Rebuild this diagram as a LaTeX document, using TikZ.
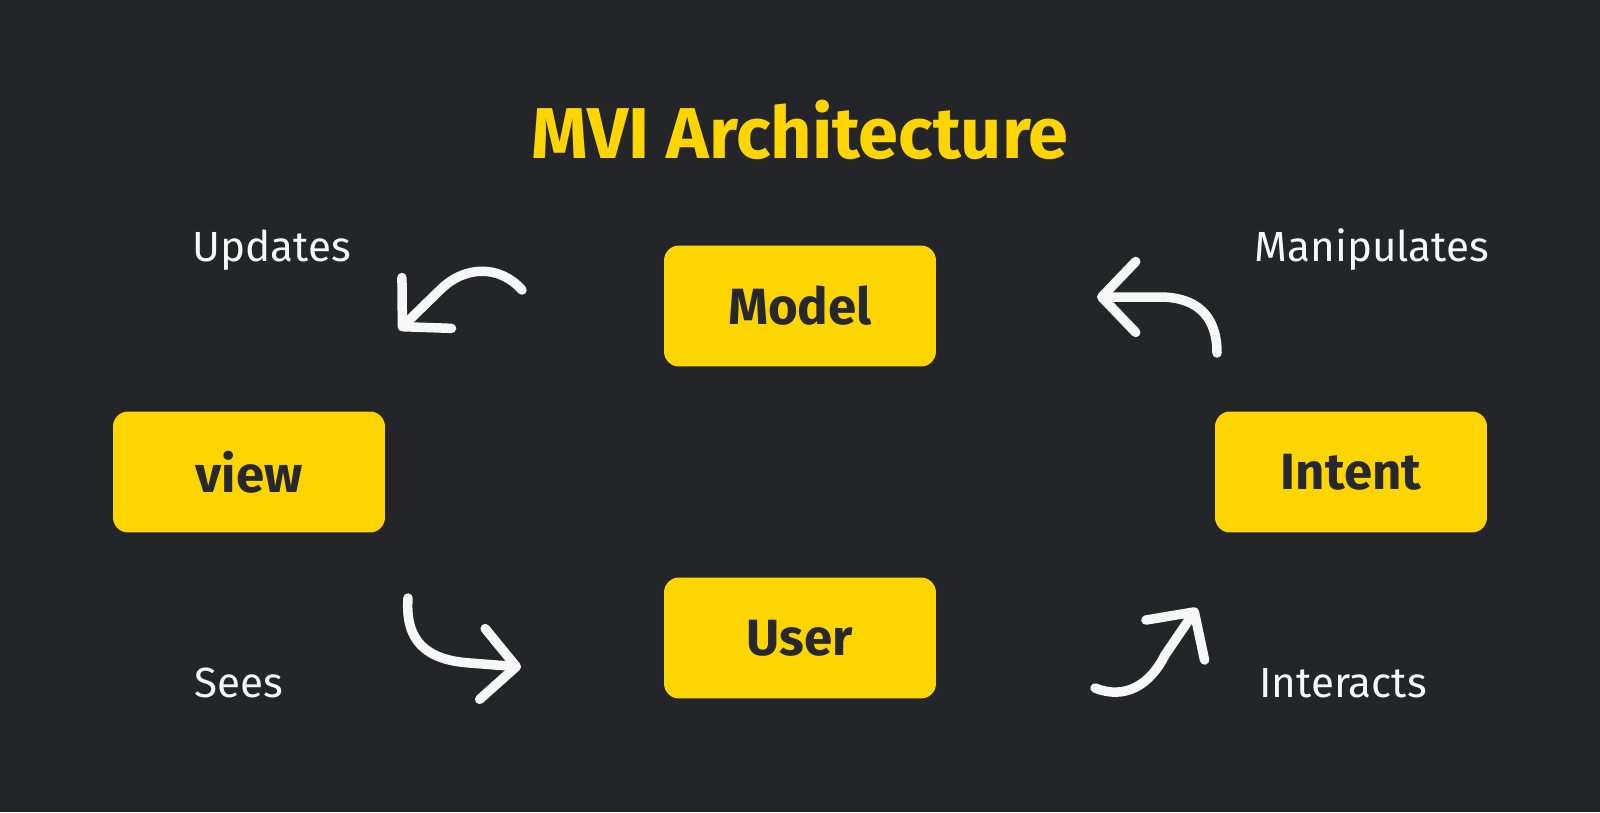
\documentclass[tikz,border=0pt]{standalone}
\usepackage{fontspec}
\setmainfont{Fira Sans}
\usetikzlibrary{arrows.meta}

\definecolor{bgdark}{HTML}{232529}
\definecolor{mviyellow}{HTML}{FFD500}
\definecolor{boxtext}{HTML}{26282C}
\definecolor{arrowwhite}{HTML}{F7F7F7}

\begin{document}
\begin{tikzpicture}[x=0.02cm,y=-0.02cm]
    \fill[bgdark] (0,0) rectangle (1600,812);
    \useasboundingbox (0,0) rectangle (1600,812);

    \tikzstyle{block} = [fill=mviyellow, text=boxtext, rounded corners=0.3cm,
        minimum width=5.44cm, minimum height=2.42cm, inner sep=0pt,
        font=\fontsize{29}{32}\selectfont\bfseries]
    \tikzstyle{label} = [text=arrowwhite, font=\fontsize{24}{27}\selectfont]
    \tikzstyle{flow} = [draw=arrowwhite, line width=0.19cm, line cap=round, line join=round,
        -{Straight Barb[round, length=0.68cm, width=1.42cm]}]

    \node[text=mviyellow, font=\fontsize{41}{45}\selectfont\bfseries] (title) at (800,130) {MVI Architecture};

    \node[block] (model) at (800,306) {Model};
    \node[block] (user) at (800,638) {User};
    \node[block] (view) at (249,472) {view};
    \node[block] (intent) at (1351,472) {Intent};

    \node[label] (updates) at (272,250) {Updates};
    \node[label] (manip) at (1372,250) {Manipulates};
    \node[label] (sees) at (239,683) {Sees};
    \node[label] (interacts) at (1343,683) {Interacts};

    % free ends of the curved arrows
    \coordinate (u1) at (522,290);
    \coordinate (u2) at (399,330);
    \coordinate (m1) at (1217,353);
    \coordinate (m2) at (1097,297);
    \coordinate (s1) at (408,598);
    \coordinate (s2) at (521,667);
    \coordinate (i1) at (1095,688);
    \coordinate (i2) at (1197,608);

    \draw[flow] (u1) .. controls (500,265) and (465,265) .. (440,290) -- (u2);
    \draw[flow] (m1) .. controls (1217,310) and (1190,297) .. (1160,297) -- (m2);
    \draw[flow] (s1) .. controls (405,640) and (425,660) .. (470,663) -- (s2);
    \draw[flow] (i1) .. controls (1125,700) and (1150,685) .. (1165,655) -- (i2);
\end{tikzpicture}
\end{document}
